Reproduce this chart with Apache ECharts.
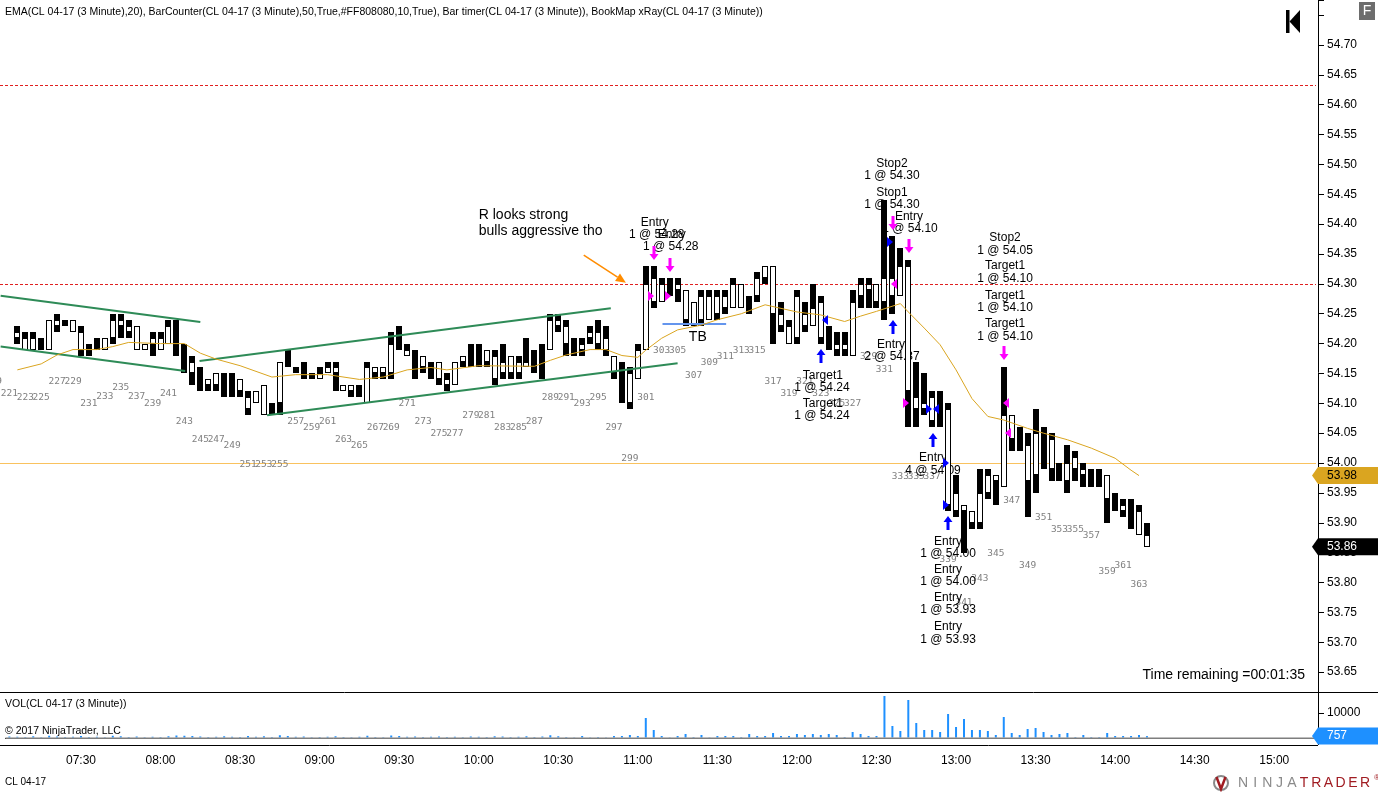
<!DOCTYPE html>
<html><head><meta charset="utf-8">
<script src="https://cdn.jsdelivr.net/npm/echarts@6/dist/echarts.min.js"></script>
<style>html,body{margin:0;padding:0;background:#fff;}#c{width:1378px;height:792px;}</style>
</head><body><div id="c"></div>
<script>
// ---------------- data ----------------
const firstBar = 221;      // first bar number on the axis
const lastSlot = 385;      // last (empty) slot on the time axis

const opens = [
null,54.22,54.21,54.21,54.19,54.24,54.24,54.23,54.24,54.22,
54.18,54.19,54.21,54.24,54.24,54.23,54.23,54.20,54.21,54.21,
54.23,54.19,54.16,54.17,54.13,54.14,54.15,54.12,54.12,54.14,
54.11,54.12,54.13,54.08,54.17,54.16,54.15,54.14,54.14,54.15,
54.16,54.16,54.13,54.13,54.11,54.16,54.16,54.16,54.20,54.19,
54.19,54.14,54.18,54.14,54.17,54.14,54.17,54.18,54.16,54.16,
54.19,54.18,54.17,54.18,54.17,54.17,54.15,54.14,54.24,54.24,
54.23,54.18,54.20,54.22,54.22,54.21,54.18,54.10,54.15,54.19,
54.30,54.31,54.30,54.28,54.30,54.29,54.27,54.28,54.28,54.28,
54.28,54.30,54.30,54.25,54.31,54.33,54.33,54.25,54.23,54.28,
54.25,54.26,54.27,54.19,54.20,54.20,54.27,54.30,54.30,54.30,
54.31,54.31,54.33,54.33,54.11,54.10,54.11,54.06,54.09,53.95,
53.93,53.92,53.95,53.98,53.98,54.08,54.08,54.02,54.03,54.05,
53.99,54.04,53.97,54.00,54.01,53.99,53.96,53.96,53.98,53.92,
53.93,53.89,53.92,53.88];
const highs = [
null,54.23,54.22,54.22,54.21,54.24,54.25,54.24,54.24,54.23,
54.20,54.21,54.21,54.25,54.25,54.24,54.23,54.20,54.22,54.22,
54.24,54.24,54.20,54.18,54.16,54.14,54.15,54.15,54.15,54.14,
54.12,54.12,54.13,54.10,54.17,54.19,54.16,54.17,54.15,54.16,
54.17,54.17,54.13,54.13,54.13,54.17,54.16,54.16,54.22,54.23,
54.20,54.19,54.18,54.17,54.17,54.15,54.17,54.18,54.20,54.20,
54.19,54.19,54.20,54.18,54.18,54.21,54.19,54.20,54.25,54.25,
54.24,54.21,54.21,54.23,54.24,54.23,54.18,54.17,54.16,54.20,
54.33,54.33,54.31,54.31,54.31,54.29,54.27,54.29,54.29,54.29,
54.29,54.31,54.30,54.28,54.32,54.33,54.33,54.27,54.24,54.29,
54.27,54.30,54.28,54.23,54.22,54.22,54.29,54.31,54.31,54.30,
54.44,54.38,54.36,54.34,54.17,54.15,54.12,54.12,54.10,53.98,
53.93,53.92,53.99,53.99,53.98,54.16,54.08,54.06,54.05,54.09,
54.06,54.05,54.00,54.03,54.02,54.00,53.99,53.99,53.98,53.95,
53.94,53.94,53.93,53.90];
const lows = [
null,54.20,54.19,54.19,54.19,54.19,54.22,54.23,54.22,54.18,
54.18,54.19,54.19,54.20,54.21,54.21,54.19,54.19,54.18,54.19,
54.20,54.18,54.15,54.13,54.12,54.12,54.12,54.11,54.11,54.11,
54.08,54.10,54.08,54.08,54.08,54.16,54.15,54.14,54.14,54.14,
54.15,54.12,54.12,54.11,54.11,54.10,54.14,54.14,54.14,54.19,
54.18,54.14,54.15,54.14,54.13,54.12,54.13,54.16,54.16,54.16,
54.16,54.13,54.14,54.14,54.14,54.16,54.15,54.14,54.19,54.22,
54.18,54.18,54.18,54.20,54.19,54.18,54.14,54.10,54.09,54.14,
54.19,54.26,54.27,54.28,54.27,54.23,54.23,54.23,54.24,54.24,
54.25,54.26,54.26,54.25,54.27,54.30,54.20,54.22,54.20,54.20,
54.22,54.23,54.20,54.19,54.18,54.18,54.18,54.26,54.26,54.26,
54.24,54.25,54.28,54.06,54.06,54.08,54.06,54.06,53.92,53.91,
53.85,53.89,53.89,53.94,53.93,53.96,54.02,54.02,53.91,53.95,
53.99,53.97,53.97,53.95,53.97,53.96,53.96,53.96,53.90,53.92,
53.91,53.89,53.88,53.86];
const closes = [
null,54.21,54.19,54.19,54.21,54.19,54.23,54.24,54.22,54.19,
54.20,54.21,54.19,54.21,54.23,54.22,54.19,54.19,54.20,54.19,
54.20,54.23,54.19,54.15,54.15,54.13,54.13,54.14,54.14,54.12,
54.09,54.10,54.08,54.10,54.10,54.19,54.16,54.17,54.15,54.14,
54.15,54.15,54.12,54.12,54.13,54.10,54.15,54.15,54.15,54.23,
54.18,54.19,54.16,54.17,54.14,54.13,54.13,54.17,54.20,54.20,
54.17,54.14,54.15,54.15,54.15,54.16,54.19,54.20,54.19,54.23,
54.20,54.21,54.19,54.21,54.20,54.19,54.15,54.17,54.10,54.14,
54.19,54.27,54.27,54.31,54.29,54.24,54.23,54.24,54.24,54.25,
54.26,54.26,54.26,54.28,54.28,54.31,54.25,54.23,54.20,54.21,
54.23,54.23,54.21,54.23,54.19,54.19,54.18,54.28,54.29,54.27,
54.27,54.28,54.28,54.12,54.09,54.09,54.07,54.12,53.93,53.92,
53.92,53.90,53.90,53.95,53.97,53.96,54.04,54.06,53.97,53.98,
54.06,53.99,54.00,53.97,53.99,53.98,53.99,53.99,53.94,53.95,
53.92,53.94,53.88,53.86];
const volumes = [
600,500,400,700,300,900,600,400,500,800,
400,500,300,900,700,400,600,300,500,400,
700,1000,900,800,600,400,500,700,500,400,
800,500,700,400,1100,800,500,600,300,400,
500,700,400,300,500,900,400,300,1000,800,
500,600,400,500,600,400,500,300,600,500,
400,700,600,400,500,700,400,600,1100,700,
400,200,800,200,400,200,800,800,1200,800,
8000,3200,800,200,800,1600,400,1200,200,800,
800,800,400,1600,800,800,2000,800,800,1600,
1200,1600,1200,1600,1200,400,2400,1600,800,800,
16800,4800,2800,15200,6000,3200,3200,2400,9600,4400,
7600,3200,3200,2800,1200,8400,2000,1200,3600,4000,
2400,1200,1600,2000,400,1200,400,400,2000,800,
800,800,1200,757];

// EMA(20) at these bars
const emaBars   = [222,225,227,229,232,234,236,240,243,245,247,250,254,257,261,265,268,271,274,276,280,287,289,291,294,296,298,300,301,303,305,308,310,313,316,318,320,323,326,328,330,333,334,336,338,340,342,344,346,349,351,354,357,360,362,363];
const emaValues = [54.156,54.166,54.181,54.190,54.190,54.195,54.202,54.200,54.200,54.184,54.174,54.163,54.144,54.148,54.148,54.140,54.144,54.156,54.160,54.156,54.163,54.162,54.172,54.181,54.190,54.190,54.180,54.177,54.189,54.209,54.223,54.231,54.240,54.250,54.265,54.259,54.253,54.248,54.237,54.246,54.254,54.267,54.253,54.226,54.198,54.156,54.108,54.078,54.072,54.058,54.050,54.039,54.025,54.008,53.988,53.979];

// bar counter labels (bar number, price level where printed)
const counterBars = [219,221,223,225,227,229,231,233,235,237,239,241,243,245,247,249,251,253,255,257,259,261,263,265,267,269,271,273,275,277,279,281,283,285,287,289,291,293,295,297,299,301,303,305,307,309,311,313,315,317,319,321,323,325,327,329,331,333,335,337,339,341,343,345,347,349,351,353,355,357,359,361,363];
const counterPrices = [54.137,54.116,54.109,54.109,54.137,54.137,54.099,54.111,54.127,54.111,54.099,54.117,54.069,54.039,54.039,54.029,53.998,53.998,53.998,54.069,54.059,54.069,54.039,54.029,54.059,54.059,54.099,54.069,54.049,54.049,54.079,54.079,54.059,54.059,54.069,54.109,54.109,54.099,54.109,54.059,54.008,54.109,54.188,54.188,54.147,54.168,54.178,54.188,54.188,54.137,54.117,54.137,54.117,54.099,54.099,54.178,54.157,53.978,53.978,53.978,53.838,53.767,53.807,53.848,53.938,53.828,53.908,53.888,53.888,53.878,53.818,53.828,53.797];

// order annotations [bar, price, text]
const orderNotes = [
[302.13,54.402,'Entry'],[302.38,54.382,'1 @ 54.28'],[304.27,54.382,'Entry'],[304.14,54.362,'1 @ 54.28'],
[323.26,54.147,'Target1'],[323.14,54.127,'1 @ 54.24'],[323.26,54.100,'Target1'],[323.14,54.080,'1 @ 54.24'],
[331.94,54.502,'Stop2'],[331.94,54.481,'1 @ 54.30'],[331.94,54.452,'Stop1'],[331.94,54.432,'1 @ 54.30'],
[334.08,54.412,'Entry'],[334.21,54.392,'1 @ 54.10'],
[331.82,54.198,'Entry'],[331.94,54.178,'2 @ 54.37'],
[346.16,54.377,'Stop2'],[346.16,54.355,'1 @ 54.05'],[346.16,54.330,'Target1'],[346.16,54.308,'1 @ 54.10'],
[346.16,54.281,'Target1'],[346.16,54.260,'1 @ 54.10'],[346.16,54.233,'Target1'],[346.16,54.211,'1 @ 54.10'],
[337.10,54.009,'Entry'],[337.10,53.988,'4 @ 54.09'],
[339.0,53.868,'Entry'],[339.0,53.848,'1 @ 54.00'],[339.0,53.821,'Entry'],[339.0,53.801,'1 @ 54.00'],
[339.0,53.774,'Entry'],[339.0,53.754,'1 @ 53.93'],[339.0,53.726,'Entry'],[339.0,53.705,'1 @ 53.93']];
// hand-drawn comments [bar, price, text]
const comments = [[280.0,54.415,'R looks strong'],[280.0,54.389,'bulls aggressive tho'],[307.54,54.211,'TB']];

// execution markers [bar, price, kind]
const markers = [
[302.0,54.352,'dM'],[304.0,54.332,'dM'],[332.1,54.402,'dM'],[334.1,54.363,'dM'],[346.0,54.184,'dM'],
[323.0,54.179,'uB'],[332.1,54.228,'uB'],[337.1,54.039,'uB'],[339.0,53.900,'uB'],
[301.6,54.28,'rM'],[303.8,54.28,'rM'],[333.7,54.10,'rM'],
[332.2,54.30,'lM'],[346.3,54.10,'lM'],[346.5,54.05,'lM'],
[323.5,54.24,'lB'],[337.5,54.09,'lB'],
[331.7,54.37,'rB'],[336.6,54.09,'rB'],[338.7,54.00,'rB'],[338.7,53.93,'rB']];

// drawn lines [bar1, price1, bar2, price2]
const trendLines = [
[219.9,54.280,245.0,54.236],
[219.9,54.195,243.1,54.154],
[244.9,54.171,296.6,54.259],
[253.4,54.080,305.0,54.167],
[303.1,54.233,311.1,54.233]];
const arrowLine = [293.2,54.348,298.5,54.302];
const levelPrices = [54.633,54.30,54.00];

const priceMin = 53.65, priceMax = 54.775, priceStep = 0.05;
const volMax = 18400, volStep = 10000;

// ---------------- styles ----------------
const FONT = '"Liberation Sans", Arial, sans-serif';
const trendColors = ['#2E8B57','#2E8B57','#2E8B57','#2E8B57','#6495ED'];
const levelColors = ['#E02020','#E02020','#F9C25E'];
const levelDash = [[3,2],[3,2],null];

// ---------------- build ----------------
const cats = [];
for (let b = firstBar; b <= lastSlot; b++) {
  const m = 660 + (b - 300) * 3;
  cats.push(String(Math.floor(m / 60)).padStart(2, '0') + ':' + String(m % 60).padStart(2, '0'));
}
const isHalfHour = (idx) => Math.abs((idx + firstBar - 300) % 10) === 0;

const candleData = [];
opens.forEach((o, k) => { if (o != null) candleData.push([k, o, closes[k], lows[k], highs[k]]); });
const volData = volumes.map((v, k) => [k, v]);
const emaData = emaBars.map((b, k) => [b - firstBar, emaValues[k]]);

function barPx(api, bar, price) {
  const p0 = api.coord([0, price]);
  const p1 = api.coord([1, price]);
  return [p0[0] + (bar - firstBar) * (p1[0] - p0[0]), p0[1]];
}

const chart = echarts.init(document.getElementById('c'), null, {renderer: 'canvas'});
const gridLeft = 5.4, gridWidth = 1312.6;
const pxPerUnit = 597.2;
const priceTop = 45 - (priceMax - 54.70) * pxPerUnit;
const priceHeight = (priceMax - priceMin) * pxPerUnit;

const option = {
  animation: false,
  textStyle: {fontFamily: FONT},
  grid: [
    {left: gridLeft, width: gridWidth, top: priceTop, height: priceHeight, containLabel: false},
    {left: gridLeft, width: gridWidth, top: 692, height: 46, containLabel: false}
  ],
  xAxis: [
    {gridIndex: 0, type: 'category', data: cats, boundaryGap: true, show: false},
    {gridIndex: 1, type: 'category', data: cats, boundaryGap: true, position: 'bottom', offset: 7,
     axisLine: {lineStyle: {color: '#000', width: 1}},
     axisTick: {alignWithLabel: true, length: 5, interval: (i) => isHalfHour(i), lineStyle: {color: '#000'}},
     axisLabel: {interval: (i) => isHalfHour(i), color: '#000', fontSize: 12, margin: 10, fontFamily: FONT, hideOverlap: false},
     splitLine: {show: false}}
  ],
  yAxis: [
    {gridIndex: 0, type: 'value', position: 'right', min: priceMin, max: priceMax, interval: priceStep,
     axisLine: {show: false}, splitLine: {show: false},
     axisTick: {show: true, length: 6, lineStyle: {color: '#000'}},
     axisLabel: {margin: 9, color: '#000', fontSize: 12, fontFamily: FONT,
       formatter: (v) => (v > 54.72 ? '' : v.toFixed(2))}},
    {gridIndex: 1, type: 'value', position: 'right', min: 0, max: volMax, interval: volStep,
     axisLine: {show: false}, splitLine: {show: false},
     axisTick: {show: true, length: 6, lineStyle: {color: '#000'}},
     axisLabel: {margin: 9, color: '#000', fontSize: 12, fontFamily: FONT,
       formatter: (v) => (v === volStep ? String(v) : '')}}
  ],
  series: [
    { // horizontal levels
      type: 'custom', xAxisIndex: 0, yAxisIndex: 0, z: 1, silent: true,
      data: levelPrices.map((p) => [0, p]),
      renderItem: (params, api) => {
        const k = params.dataIndex;
        const y = Math.round(api.coord([0, levelPrices[k]])[1]) + 0.5;
        const cs = params.coordSys;
        return {type: 'line', shape: {x1: 0, y1: y, x2: cs.x + cs.width - 2, y2: y},
          style: {stroke: levelColors[k], lineWidth: 1, lineDash: levelDash[k]}};
      }
    },
    { // bar counter labels
      type: 'custom', xAxisIndex: 0, yAxisIndex: 0, z: 2, silent: true,
      data: counterBars.map((b, k) => [0, counterPrices[k]]),
      renderItem: (params, api) => {
        const k = params.dataIndex;
        const p = barPx(api, counterBars[k], counterPrices[k]);
        return {type: 'text', x: p[0], y: p[1],
          style: {text: String(counterBars[k]), fill: '#808080', font: '9.5px "DejaVu Sans Mono", monospace', align: 'center', verticalAlign: 'middle'}};
      }
    },
    { // order annotations
      type: 'custom', xAxisIndex: 0, yAxisIndex: 0, z: 2, silent: true,
      data: orderNotes.map((n) => [0, n[1]]),
      renderItem: (params, api) => {
        const n = orderNotes[params.dataIndex];
        const p = barPx(api, n[0], n[1]);
        return {type: 'text', x: p[0], y: p[1],
          style: {text: n[2], fill: '#000', font: '12px ' + FONT, align: 'center', verticalAlign: 'middle'}};
      }
    },
    { // comments
      type: 'custom', xAxisIndex: 0, yAxisIndex: 0, z: 2, silent: true,
      data: comments.map((n) => [0, n[1]]),
      renderItem: (params, api) => {
        const n = comments[params.dataIndex];
        const p = barPx(api, n[0], n[1]);
        const isTB = n[2] === 'TB';
        return {type: 'text', x: p[0], y: p[1],
          style: {text: n[2], fill: '#000', font: '14px ' + FONT, align: isTB ? 'center' : 'left', verticalAlign: 'middle'}};
      }
    },
    { // candles
      type: 'custom', name: 'CL 04-17', xAxisIndex: 0, yAxisIndex: 0, z: 3, silent: true,
      data: candleData,
      encode: {x: 0, y: [1, 2, 3, 4]},
      renderItem: (params, api) => {
        const i = api.value(0), o = api.value(1), c = api.value(2), l = api.value(3), h = api.value(4);
        const pH = api.coord([i, h]), pL = api.coord([i, l]);
        const cx = Math.round(pH[0]);
        const x0 = cx - 3;
        const yT = Math.round(pH[1]), yB = Math.round(pL[1]);
        const kids = [{type: 'rect', shape: {x: x0, y: yT, width: 6, height: Math.max(2, yB - yT)}, style: {fill: '#000'}}];
        if (c < o) {
          const yo = Math.round(api.coord([i, o])[1]), yc = Math.round(api.coord([i, c])[1]);
          kids.push({type: 'rect', shape: {x: x0 + 1, y: yo + 1, width: 4, height: Math.max(1, yc - yo - 2)}, style: {fill: '#fff'}});
        }
        return {type: 'group', children: kids};
      }
    },
    { // EMA
      type: 'line', name: 'EMA', xAxisIndex: 0, yAxisIndex: 0, z: 4, silent: true,
      data: emaData, showSymbol: false, symbol: 'none', connectNulls: true,
      lineStyle: {color: '#DAA520', width: 1}
    },
    { // drawn trend lines and the comment arrow
      type: 'custom', xAxisIndex: 0, yAxisIndex: 0, z: 4, silent: true,
      data: trendLines.map((t) => [0, t[1]]).concat([[0, arrowLine[1]]]),
      renderItem: (params, api) => {
        const k = params.dataIndex;
        if (k < trendLines.length) {
          const t = trendLines[k];
          const a = barPx(api, t[0], t[1]), b = barPx(api, t[2], t[3]);
          return {type: 'line', shape: {x1: a[0], y1: a[1], x2: b[0], y2: b[1]}, style: {stroke: trendColors[k], lineWidth: 2}};
        }
        const a = barPx(api, arrowLine[0], arrowLine[1]), b = barPx(api, arrowLine[2], arrowLine[3]);
        const dx = b[0] - a[0], dy = b[1] - a[1], len = Math.hypot(dx, dy);
        const ux = dx / len, uy = dy / len;
        const hl = 10, hw = 4.5;
        const bx = b[0] - ux * hl, by = b[1] - uy * hl;
        return {type: 'group', children: [
          {type: 'line', shape: {x1: a[0], y1: a[1], x2: bx, y2: by}, style: {stroke: '#FF8C00', lineWidth: 1.5}},
          {type: 'polygon', shape: {points: [[b[0], b[1]], [bx - uy * hw, by + ux * hw], [bx + uy * hw, by - ux * hw]]}, style: {fill: '#FF8C00'}}
        ]};
      }
    },
    { // execution markers
      type: 'custom', xAxisIndex: 0, yAxisIndex: 0, z: 5, silent: true,
      data: markers.map((m) => [0, m[1]]),
      renderItem: (params, api) => {
        const m = markers[params.dataIndex];
        const p = barPx(api, m[0], m[1]);
        const x = Math.round(p[0]), y = Math.round(p[1]);
        const kind = m[2];
        const col = kind[1] === 'M' ? '#FF00FF' : '#0000FF';
        let pts;
        if (kind[0] === 'd') {
          pts = [[x - 1.5, y - 7], [x + 1.5, y - 7], [x + 1.5, y + 1], [x + 4.5, y + 1], [x, y + 7], [x - 4.5, y + 1], [x - 1.5, y + 1]];
        } else if (kind[0] === 'u') {
          pts = [[x - 1.5, y + 7], [x + 1.5, y + 7], [x + 1.5, y - 1], [x + 4.5, y - 1], [x, y - 7], [x - 4.5, y - 1], [x - 1.5, y - 1]];
        } else if (kind[0] === 'r') {
          pts = [[x - 3, y - 5], [x + 3, y], [x - 3, y + 5]];
        } else {
          pts = [[x + 3, y - 5], [x - 3, y], [x + 3, y + 5]];
        }
        return {type: 'polygon', shape: {points: pts}, style: {fill: col}};
      }
    },
    { // volume
      type: 'bar', name: 'VOL', xAxisIndex: 1, yAxisIndex: 1, z: 3, silent: true,
      data: volData, barWidth: 2, itemStyle: {color: '#1E90FF'},
      markLine: {silent: true, symbol: 'none', label: {show: false},
        lineStyle: {color: '#A8A8A8', width: 1.5, type: 'solid'}, data: [{yAxis: 0}]}
    }
  ]
};

// fixed frame items
const logoLetters = 'NINJATRADER'.split('');
const graphics = [
  {type: 'text', x: 5, y: 12, z: 100, style: {text: 'EMA(CL 04-17 (3 Minute),20), BarCounter(CL 04-17 (3 Minute),50,True,#FF808080,10,True), Bar timer(CL 04-17 (3 Minute)), BookMap xRay(CL 04-17 (3 Minute))', font: '10.5px ' + FONT, fill: '#000', verticalAlign: 'middle'}},
  {type: 'rect', z: 100, shape: {x: 1286, y: 10, width: 3.5, height: 23}, style: {fill: '#000'}},
  {type: 'polygon', z: 100, shape: {points: [[1289.5, 21.5], [1300, 10], [1300, 33]]}, style: {fill: '#000'}},
  {type: 'rect', z: 100, shape: {x: 1359, y: 2, width: 16, height: 18}, style: {fill: '#6d6d6d'}},
  {type: 'text', x: 1367, y: 11.5, z: 101, style: {text: 'F', font: '14px ' + FONT, fill: '#fff', align: 'center', verticalAlign: 'middle'}},
  {type: 'line', z: 100, shape: {x1: 1318.5, y1: 0, x2: 1318.5, y2: 745}, style: {stroke: '#000', lineWidth: 1}},
  {type: 'line', z: 100, shape: {x1: 0, y1: 692.5, x2: 1378, y2: 692.5}, style: {stroke: '#000', lineWidth: 1}},
  {type: 'line', z: 100, shape: {x1: 0, y1: 745.5, x2: 1318, y2: 745.5}, style: {stroke: '#000', lineWidth: 1}},
  {type: 'text', x: 5, y: 704, z: 100, style: {text: 'VOL(CL 04-17 (3 Minute))', font: '10.5px ' + FONT, fill: '#000', verticalAlign: 'middle'}},
  {type: 'text', x: 5, y: 731, z: 100, style: {text: '\u00A9 2017 NinjaTrader, LLC', font: '10.5px ' + FONT, fill: '#000', verticalAlign: 'middle'}},
  {type: 'text', x: 5, y: 782, z: 100, style: {text: 'CL 04-17', font: '10px ' + FONT, fill: '#000', verticalAlign: 'middle'}},
  {type: 'text', x: 1305, y: 675, z: 100, style: {text: 'Time remaining =00:01:35', font: '14px ' + FONT, fill: '#000', align: 'right', verticalAlign: 'middle'}},
  {type: 'circle', z: 100, shape: {cx: 1221, cy: 783, r: 7}, style: {fill: 'none', stroke: '#8a8a8a', lineWidth: 2}},
  {type: 'polyline', z: 101, shape: {points: [[1216.5, 777], [1221, 789], [1225.5, 777]]}, style: {stroke: '#a01c22', lineWidth: 2.5, fill: 'none'}},
  {type: 'text', x: 1374, y: 778, z: 100, style: {text: '\u00AE', font: '8px ' + FONT, fill: '#a01c22', verticalAlign: 'middle'}}
];
logoLetters.forEach((ch, i) => {
  graphics.push({type: 'text', x: 1243 + i * 12.2, y: 783, z: 100,
    style: {text: ch, font: '14px ' + FONT, fill: i < 5 ? '#8a8a8a' : '#a01c22', align: 'center', verticalAlign: 'middle'}});
});
option.graphic = graphics;
chart.setOption(option);

// value flags on the right axes
function flag(y, fill, textColor, text) {
  return [
    {type: 'polygon', z: 110, shape: {points: [[1312, y], [1318, y - 8.5], [1378, y - 8.5], [1378, y + 8.5], [1318, y + 8.5]]}, style: {fill: fill}},
    {type: 'text', x: 1327, y: y, z: 111, style: {text: text, font: '12px ' + FONT, fill: textColor, verticalAlign: 'middle'}}
  ];
}
const lastEma = emaValues[emaValues.length - 1];
const lastClose = closes[closes.length - 1];
const lastVol = volumes[volumes.length - 1];
const yEma = chart.convertToPixel({yAxisIndex: 0}, lastEma);
const yClose = chart.convertToPixel({yAxisIndex: 0}, lastClose);
const yVol = Math.min(chart.convertToPixel({yAxisIndex: 1}, lastVol), 736.5);
option.graphic = graphics.concat(
  flag(yEma, '#DAA520', '#000', lastEma.toFixed(2)),
  flag(yClose, '#000', '#fff', lastClose.toFixed(2)),
  flag(yVol, '#1E90FF', '#fff', String(lastVol))
);
chart.setOption({graphic: option.graphic}, {replaceMerge: ['graphic']});
</script>
</body></html>
